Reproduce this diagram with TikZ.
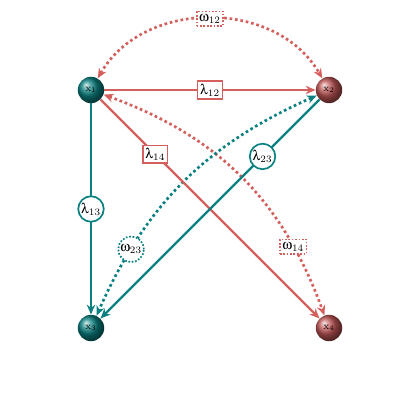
\documentclass[tikz,border=0pt]{standalone}
\usepackage[Symbol]{upgreek}
\usetikzlibrary{arrows.meta}
\definecolor{edgeteal}{HTML}{0A8080}
\definecolor{edgered}{HTML}{D4605E}

\begin{document}
\begin{tikzpicture}[
  ball/.style={circle, minimum size=0.66cm, inner sep=0pt, font=\scriptsize, text=black},
  tealball/.style={ball, ball color=edgeteal},
  redball/.style={ball, ball color=edgered!90!black},
  lam/.style={line width=1.7pt, -{Stealth[length=7pt,width=6pt]}},
  omg/.style={line width=1.9pt, dotted, {Stealth[length=7pt,width=6pt]}-{Stealth[length=7pt,width=6pt]}},
  sqlab/.style={draw, solid, fill=white, text=black, font=\normalsize, inner sep=1.8pt, line width=1.2pt},
  rdlab/.style={draw, solid, circle, fill=white, text=black, font=\normalsize, inner sep=0.6pt, line width=1.2pt},
  dotlab/.style={dash pattern=on 1.2pt off 1.2pt},
]
  \useasboundingbox (0,0) rectangle (10.5,10.5);
  \node[tealball] (x1) at (2.275,8.25) {$\mathrm{x}_1$};
  \node[redball]  (x2) at (8.225,8.25) {$\mathrm{x}_2$};
  \node[tealball] (x3) at (2.275,2.3) {$\mathrm{x}_3$};
  \node[redball]  (x4) at (8.225,2.3) {$\mathrm{x}_4$};
  % dotted omega links
  \draw[omg, edgered] (x1) to[bend left=60, looseness=1.05]
    node[sqlab, dotlab, draw=edgered] (w12) {$\upomega_{12}$} (x2);
  \draw[omg, edgered] (x1) to[bend left=25]
    node[pos=0.78, sqlab, dotlab, draw=edgered] (w14) {$\upomega_{14}$} (x4);
  \draw[omg, edgeteal] (x2) to[bend right=21]
    node[pos=0.78, rdlab, dotlab, draw=edgeteal] (w23) {$\upomega_{23}$} (x3);
  % solid lambda links
  \draw[lam, edgered] (x1) -- node[sqlab, draw=edgered] (l12) {$\uplambda_{12}$} (x2);
  \draw[lam, edgeteal] (x1) -- node[rdlab, draw=edgeteal] (l13) {$\uplambda_{13}$} (x3);
  \draw[lam, edgered] (x1) -- node[pos=0.25, sqlab, draw=edgered] (l14) {$\uplambda_{14}$} (x4);
  \draw[lam, edgeteal] (x2) -- node[pos=0.26, rdlab, draw=edgeteal] (l23) {$\uplambda_{23}$} (x3);
\end{tikzpicture}
\end{document}
